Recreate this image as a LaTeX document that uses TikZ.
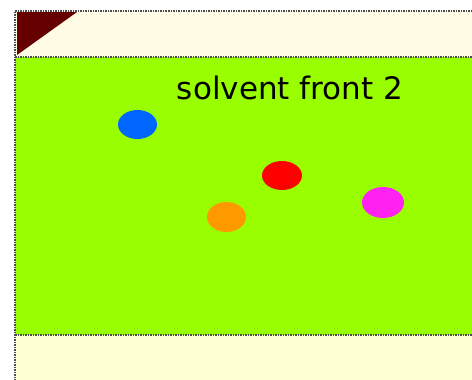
\documentclass[tikz,border=0pt]{standalone}
\usepackage{fontspec}
\setmainfont{DejaVu Sans}
\usepackage{xcolor}
\usetikzlibrary{shapes.geometric, positioning}
\definecolor{plategreen}{HTML}{99FF00}
\definecolor{platecream}{HTML}{FFFBE4}
\definecolor{basecream}{HTML}{FFFFD4}
\definecolor{cornerred}{HTML}{660000}
\definecolor{spotblue}{HTML}{0066FF}
\definecolor{spotred}{HTML}{FF0000}
\definecolor{spotorange}{HTML}{FF9900}
\definecolor{spotpink}{HTML}{FF22F0}
\tikzset{every node/.append style={align=center, inner sep=0pt}}

\begin{document}
\begin{tikzpicture}[x=1pt, y=-1pt,
    spot/.style={ellipse, minimum width=39pt, minimum height=29pt},
    edge/.style={draw=black!70, line width=1.6pt, dash pattern=on 1.5pt off 1pt}]
\useasboundingbox (0,0) rectangle (472,380);
\fill[white] (0,0) rectangle (472,380);
% plate bands
\fill[platecream] (15,11) rectangle (472,57);
\fill[plategreen] (15,57) rectangle (472,335);
\fill[basecream] (15,335) rectangle (472,380);
\fill[cornerred] (17,12) -- (77,12) -- (17,55) -- cycle;
\draw[edge] (472,11) -- (15,11) -- (15,380);
\draw[edge] (15,57) -- (472,57);
\draw[edge] (15,335) -- (472,335);
\node[font=\fontsize{31}{36}\selectfont, anchor=base] (front) at (290,99) {solvent front 2};
% spots
\node[spot, fill=spotblue] (blue) at (137.5,124.5) {};
\node[spot, fill=spotred, minimum width=40pt] (red) at (282,175.5) {};
\node[spot, fill=spotorange, minimum height=30pt] (orange) at (226.5,217) {};
\node[spot, fill=spotpink, minimum width=42pt, minimum height=31pt] (pink) at (383,202.5) {};
\end{tikzpicture}
\end{document}
